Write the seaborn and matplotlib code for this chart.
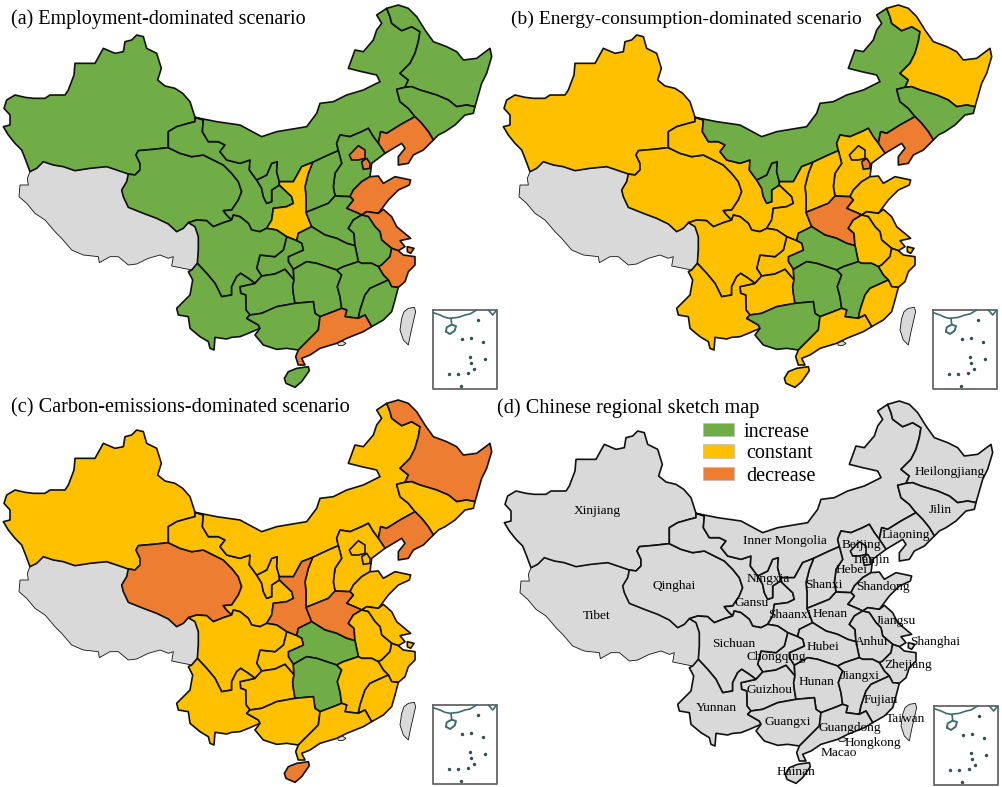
import matplotlib
matplotlib.use("Agg")
import matplotlib.pyplot as plt
import seaborn as sns

sns.set_theme(style="white")
plt.rcParams['font.family'] = ['Liberation Serif', 'DejaVu Serif']

# province outlines in map units
Xinjiang = [(585,352),(578,330),(570,305),(548,280),(525,265),(495,258),(473,240),(484,205),(470,160),(440,145),(430,110),(410,105),(395,120),(375,125),(370,155),(345,160),(310,145),(285,190),(262,190),(225,190),(222,225),(205,270),(195,285),(150,285),(135,295),(100,295),(75,292),(45,285),(20,300),(12,325),(30,345),(30,375),(10,380),(25,405),(45,430),(65,450),(75,475),(90,515),(110,505),(130,485),(160,495),(190,500),(225,512),(270,505),(320,500),(350,510),(385,522),(405,525),(420,510),(420,490),(408,465),(415,452),(460,448),(505,443),(505,395),(530,380),(565,370),(585,365)]
Tibet = [(90,515),(82,535),(85,555),(60,555),(57,590),(80,610),(105,640),(135,660),(165,695),(185,715),(215,750),(250,765),(295,770),(298,788),(330,770),(355,770),(385,795),(410,792),(445,775),(480,765),(505,775),(520,770),(515,798),(550,805),(575,810),(592,790),(595,750),(595,710),(585,680),(565,668),(550,685),(530,695),(505,672),(470,655),(430,640),(385,622),(370,590),(365,570),(380,545),(385,522),(350,510),(320,500),(270,505),(225,512),(190,500),(160,495),(130,485),(110,505)]
Qinghai = [(505,443),(540,460),(575,470),(610,465),(640,480),(670,495),(695,520),(715,545),(725,575),(715,600),(695,630),(670,632),(680,645),(695,660),(670,668),(640,680),(620,662),(590,660),(565,668),(550,685),(530,695),(505,672),(470,655),(430,640),(385,622),(370,590),(365,570),(380,545),(385,522),(405,525),(420,510),(420,490),(408,465),(415,452),(460,448)]
Gansu = [(585,352),(610,360),(607,395),(625,425),(655,425),(675,435),(660,455),(680,480),(720,490),(750,480),(748,510),(770,540),(785,565),(790,590),(800,610),(815,605),(815,570),(838,555),(875,590),(880,610),(860,620),(820,625),(815,660),(800,685),(780,695),(755,690),(745,670),(720,650),(700,645),(695,660),(680,645),(670,632),(695,630),(715,600),(725,575),(715,545),(695,520),(670,495),(640,480),(610,465),(575,470),(540,460),(505,443),(505,395),(530,380),(565,370),(585,365)]
Ningxia = [(770,540),(800,525),(815,490),(832,485),(830,515),(838,545),(838,555),(815,570),(815,605),(800,610),(790,590),(785,565)]
InnerMongolia = [(585,352),(650,365),(720,375),(785,410),(830,395),(890,385),(920,380),(950,340),(960,310),(1000,305),(1040,285),(1090,270),(1120,255),(1140,245),(1130,225),(1085,215),(1045,205),(1065,150),(1090,155),(1120,120),(1130,90),(1145,70),(1130,45),(1160,25),(1170,50),(1175,70),(1205,92),(1235,80),(1260,95),(1255,125),(1245,160),(1230,190),(1200,220),(1225,240),(1215,262),(1190,268),(1200,305),(1225,325),(1245,350),(1200,375),(1160,400),(1142,395),(1135,430),(1120,410),(1105,385),(1085,395),(1050,410),(1020,405),(1010,430),(1015,452),(985,465),(938,487),(905,500),(880,545),(838,545),(830,515),(832,485),(815,490),(800,525),(770,540),(748,510),(750,480),(720,490),(680,480),(660,455),(675,435),(655,425),(625,425),(607,395),(610,360)]
Heilongjiang = [(1160,25),(1195,15),(1225,25),(1250,50),(1275,90),(1300,125),(1340,140),(1370,155),(1390,180),(1430,175),(1470,145),(1475,170),(1460,220),(1445,250),(1425,320),(1400,315),(1370,320),(1345,300),(1310,285),(1260,270),(1235,260),(1215,262),(1225,240),(1200,220),(1230,190),(1245,160),(1255,125),(1260,95),(1235,80),(1205,92),(1175,70),(1170,50)]
Jilin = [(1215,262),(1235,260),(1260,270),(1310,285),(1345,300),(1370,320),(1400,315),(1425,320),(1420,340),(1395,345),(1365,375),(1335,395),(1315,405),(1300,420),(1285,395),(1265,370),(1245,350),(1225,325),(1200,305),(1190,268)]
Liaoning = [(1245,350),(1265,370),(1285,395),(1300,420),(1270,450),(1240,465),(1225,490),(1195,495),(1195,470),(1215,445),(1205,430),(1180,445),(1155,460),(1135,430),(1142,395),(1160,400),(1200,375)]
Hebei = [(1015,452),(1010,430),(1020,405),(1050,410),(1085,395),(1105,385),(1120,410),(1135,430),(1155,460),(1115,490),(1110,530),(1085,545),(1060,570),(1050,590),(1005,588),(1000,560),(1005,520),(1025,490)]
Beijing = [(1048,465),(1075,437),(1095,450),(1095,475),(1075,480),(1055,480)]
Tianjin = [(1085,485),(1100,475),(1110,490),(1110,505),(1090,508)]
Shanxi = [(938,487),(985,465),(1015,452),(1025,490),(1005,520),(1000,560),(1005,588),(985,610),(918,637),(918,590),(915,560),(925,520)]
Shaanxi = [(938,487),(925,520),(915,560),(918,590),(918,637),(935,680),(895,700),(890,722),(860,710),(830,690),(800,685),(815,660),(820,625),(860,620),(880,610),(875,590),(838,555),(838,545),(880,545),(905,500)]
Shandong = [(1110,530),(1135,528),(1150,550),(1185,530),(1232,540),(1228,555),(1195,570),(1165,600),(1135,640),(1100,635),(1085,645),(1075,640),(1040,625),(1060,600),(1050,590),(1060,570),(1085,545)]
Henan = [(1005,588),(1050,590),(1060,600),(1040,625),(1075,640),(1085,645),(1060,660),(1045,685),(1062,700),(1065,737),(1040,730),(1010,715),(975,705),(935,680),(918,637),(985,610)]
Jiangsu = [(1085,645),(1100,635),(1135,640),(1150,628),(1175,650),(1190,680),(1232,715),(1200,722),(1215,740),(1195,752),(1175,745),(1145,720),(1140,695),(1125,680),(1105,650)]
Shanghai = [(1222,740),(1242,745),(1232,760),(1222,755)]
Anhui = [(1085,645),(1105,650),(1125,680),(1140,695),(1145,720),(1175,745),(1170,770),(1145,795),(1135,800),(1115,790),(1085,790),(1075,785),(1065,737),(1062,700),(1045,685),(1060,660)]
Zhejiang = [(1175,745),(1195,752),(1210,765),(1245,770),(1245,795),(1225,815),(1215,845),(1195,862),(1175,860),(1165,840),(1150,825),(1135,800),(1145,795),(1170,770)]
Hubei = [(890,722),(905,730),(910,750),(865,770),(865,785),(880,808),(920,785),(950,790),(980,800),(1010,810),(1030,800),(1075,785),(1065,737),(1040,730),(1010,715),(975,705),(935,680),(895,700)]
Chongqing = [(860,710),(890,722),(905,730),(910,750),(865,770),(865,785),(880,808),(882,840),(855,808),(825,822),(785,828),(770,805),(780,765),(825,770),(850,750)]
Sichuan = [(592,790),(595,750),(595,710),(585,680),(565,668),(590,660),(620,662),(640,680),(670,668),(695,660),(700,645),(720,650),(745,670),(755,690),(780,695),(800,685),(830,690),(860,710),(850,750),(825,770),(780,765),(770,805),(785,828),(765,850),(745,835),(722,820),(710,830),(695,860),(695,885),(665,890),(645,850),(620,820)]
Guizhou = [(882,840),(855,808),(825,822),(785,828),(765,850),(720,860),(722,880),(737,885),(738,930),(750,945),(785,940),(830,920),(885,910),(880,880),(878,860)]
Hunan = [(880,808),(920,785),(950,790),(980,800),(1010,810),(1025,825),(1012,860),(1020,890),(1025,925),(1000,935),(960,950),(945,940),(940,905),(885,910),(880,880),(878,860),(882,840)]
Jiangxi = [(1010,810),(1030,800),(1075,785),(1085,790),(1115,790),(1135,800),(1150,825),(1165,840),(1110,865),(1095,885),(1080,930),(1075,955),(1035,950),(1040,930),(1025,925),(1020,890),(1012,860),(1025,825)]
Fujian = [(1165,840),(1175,860),(1195,862),(1185,900),(1175,935),(1150,960),(1115,980),(1095,945),(1075,955),(1080,930),(1095,885),(1110,865)]
Yunnan = [(592,790),(575,810),(565,815),(578,840),(570,885),(530,925),(535,945),(565,950),(570,985),(600,1010),(625,1025),(630,1045),(642,1050),(645,1012),(680,1017),(695,1012),(720,1010),(745,1000),(780,985),(775,975),(740,955),(750,945),(738,930),(737,885),(722,880),(720,860),(765,850),(745,835),(722,820),(710,830),(695,860),(695,885),(665,890),(645,850),(620,820)]
Guangxi = [(750,945),(785,940),(830,920),(885,910),(940,905),(945,940),(960,950),(955,990),(925,1020),(895,1050),(860,1045),(830,1048),(790,1035),(765,1005),(780,985),(775,975),(740,955)]
Guangdong = [(960,950),(1000,935),(1025,925),(1040,930),(1035,950),(1075,955),(1095,945),(1115,980),(1090,995),(1040,1015),(1010,1030),(960,1045),(930,1065),(905,1075),(915,1095),(895,1095),(887,1070),(895,1050),(925,1020),(955,990)]
Hainan = [(853,1135),(865,1115),(890,1105),(925,1100),(928,1112),(905,1145),(885,1162),(858,1150)]
Taiwan = [(1212,935),(1225,925),(1243,922),(1247,935),(1240,965),(1232,1000),(1225,1035),(1210,1020),(1200,990),(1205,955)]
Macao = [(1012,1028),(1025,1022),(1038,1030),(1028,1037),(1015,1036)]

provinces = {"Tibet":Tibet,"Taiwan":Taiwan,"Macao":Macao,"Xinjiang":Xinjiang,"Qinghai":Qinghai,"Gansu":Gansu,"Ningxia":Ningxia,"Inner Mongolia":InnerMongolia,
    "Heilongjiang":Heilongjiang,"Jilin":Jilin,"Liaoning":Liaoning,"Hebei":Hebei,"Beijing":Beijing,"Tianjin":Tianjin,
    "Shanxi":Shanxi,"Shaanxi":Shaanxi,"Shandong":Shandong,"Henan":Henan,"Jiangsu":Jiangsu,"Shanghai":Shanghai,"Anhui":Anhui,
    "Zhejiang":Zhejiang,"Hubei":Hubei,"Chongqing":Chongqing,"Sichuan":Sichuan,"Guizhou":Guizhou,"Hunan":Hunan,"Jiangxi":Jiangxi,
    "Fujian":Fujian,"Yunnan":Yunnan,"Guangxi":Guangxi,"Guangdong":Guangdong,"Hainan":Hainan}
no_data = ["Tibet","Taiwan","Macao"]

# provinces per scenario
a_decrease = ["Liaoning","Beijing","Tianjin","Shandong","Jiangsu","Shanghai","Zhejiang","Guangdong"]
a_constant = ["Shaanxi"]
b_increase = ["Inner Mongolia","Jilin","Ningxia","Hubei","Hunan","Jiangxi","Guangxi"]
b_decrease = ["Liaoning","Tianjin","Henan"]
c_increase = ["Hubei","Hunan"]
c_decrease = ["Heilongjiang","Liaoning","Qinghai","Shaanxi","Henan","Hainan"]

# labels for panel d
label_names = ["Xinjiang","Tibet","Qinghai","Inner Mongolia","Heilongjiang","Jilin","Liaoning","Beijing","Tianjin","Hebei","Shanxi","Shandong","Ningxia","Gansu","Shaanxi","Henan","Jiangsu","Anhui","Shanghai","Hubei","Sichuan","Chongqing","Hunan","Jiangxi","Zhejiang","Guizhou","Fujian","Yunnan","Guangxi","Guangdong","Taiwan","Hongkong","Macao","Hainan"]
label_x = [289,287,518,853,1347,1317,1215,1080,1109,1053,969,1145,801,752,867,989,1185,1112,1302,967,697,827,947,1077,1222,807,1139,645,861,1047,1215,1117,1012,885]
label_y = [344,659,569,434,227,341,417,447,491,523,566,572,548,621,658,653,675,737,737,752,743,783,857,840,807,881,913,937,977,995,969,1040,1070,1129]

panel_titles = ["(a) Employment-dominated scenario","(b) Energy-consumption-dominated scenario","(c) Carbon-emissions-dominated scenario","(d) Chinese regional sketch map"]
title_sizes = [14.5, 14, 14.6, 14.6]
title_x = [32, 33, 32, -12]
title_y = [58, 58, 40, 36]
legend_names = ["increase","constant","decrease"]
colors = sns.color_palette(["#70AD47","#FFC000","#ED7D31"])
gray = "#D9D9D9"

# south china sea box
box_x = [1300,1491,1491,1300,1300]
box_y = [930,930,1167,1167,930]
coast_x = [1300,1320,1335,1350,1375,1395,1410,1430]
coast_y = [938,945,952,955,952,945,942,930]
stem_x = [1353,1355]
stem_y = [955,972]
loop_x = [1338,1340,1355,1368,1364,1350,1338]
loop_y = [995,982,974,978,992,1002,995]
vee_x = [1465,1478,1490]
vee_y = [930,945,930]
island_x = [1435,1385,1413,1450,1410,1413,1455,1422,1404,1347,1373,1382]
island_y = [960,1018,1015,1025,1070,1090,1078,1107,1118,1122,1122,1158]


def scenario_a(name):
    if name in a_decrease:
        return colors[2]
    if name in a_constant:
        return colors[1]
    return colors[0]


def scenario_b(name):
    if name in b_increase:
        return colors[0]
    if name in b_decrease:
        return colors[2]
    return colors[1]


def scenario_c(name):
    if name in c_increase:
        return colors[0]
    if name in c_decrease:
        return colors[2]
    return colors[1]


def scenario_d(name):
    return gray


def draw_map(ax, color_for):
    for name, outline in provinces.items():
        color = gray if name in no_data else color_for(name)
        xs, ys = zip(*outline)
        lw = 0.6 if name in no_data else 1.2
        ax.fill(xs, ys, facecolor=color, edgecolor="#111111", linewidth=lw, joinstyle="round")
    # inset
    ax.plot(box_x, box_y, color="#666666", lw=1.3)
    ax.plot(coast_x, coast_y, color="#3d6b70", lw=1.2)
    ax.plot(stem_x, stem_y, color="#3d6b70", lw=1.2)
    ax.plot(loop_x, loop_y, color="#3d6b70", lw=1.4)
    ax.plot(vee_x, vee_y, color="#3d6b70", lw=1.2)
    sns.scatterplot(x=island_x, y=island_y, ax=ax, color="#2f4f4f", s=6, legend=False, linewidth=0)
    ax.set_xlim(0, 1500)
    ax.set_ylim(1185, 0)
    ax.axis("off")


fig = plt.figure(figsize=(10.03, 7.87), dpi=100)
lefts = [0, 500, 0, 501]
tops = [0, 0, 395, 396]
funcs = [scenario_a, scenario_b, scenario_c, scenario_d]
for i in range(4):
    ax = fig.add_axes([lefts[i]/1003, (787-tops[i]-395)/787, 500/1003, 395/787])
    draw_map(ax, funcs[i])
    ax.text(title_x[i], title_y[i], panel_titles[i], fontsize=title_sizes[i], color="black", va="center", clip_on=False)
    if i == 3:
        for n, x, y in zip(label_names, label_x, label_y):
            ax.text(x, y, n, fontsize=9.6, ha="center", va="center", color="black")
        for j, n in enumerate(legend_names):
            y = [100, 165, 233][j]
            ax.fill([605,698,698,605], [y-20,y-20,y+20,y+20], facecolor=colors[j], edgecolor="#bbbbbb", linewidth=0.5)
            ax.text([828,835,840][j], y+8, n, fontsize=14.5, ha="center", va="center", color="black")

fig.savefig("out.png", dpi=100)
